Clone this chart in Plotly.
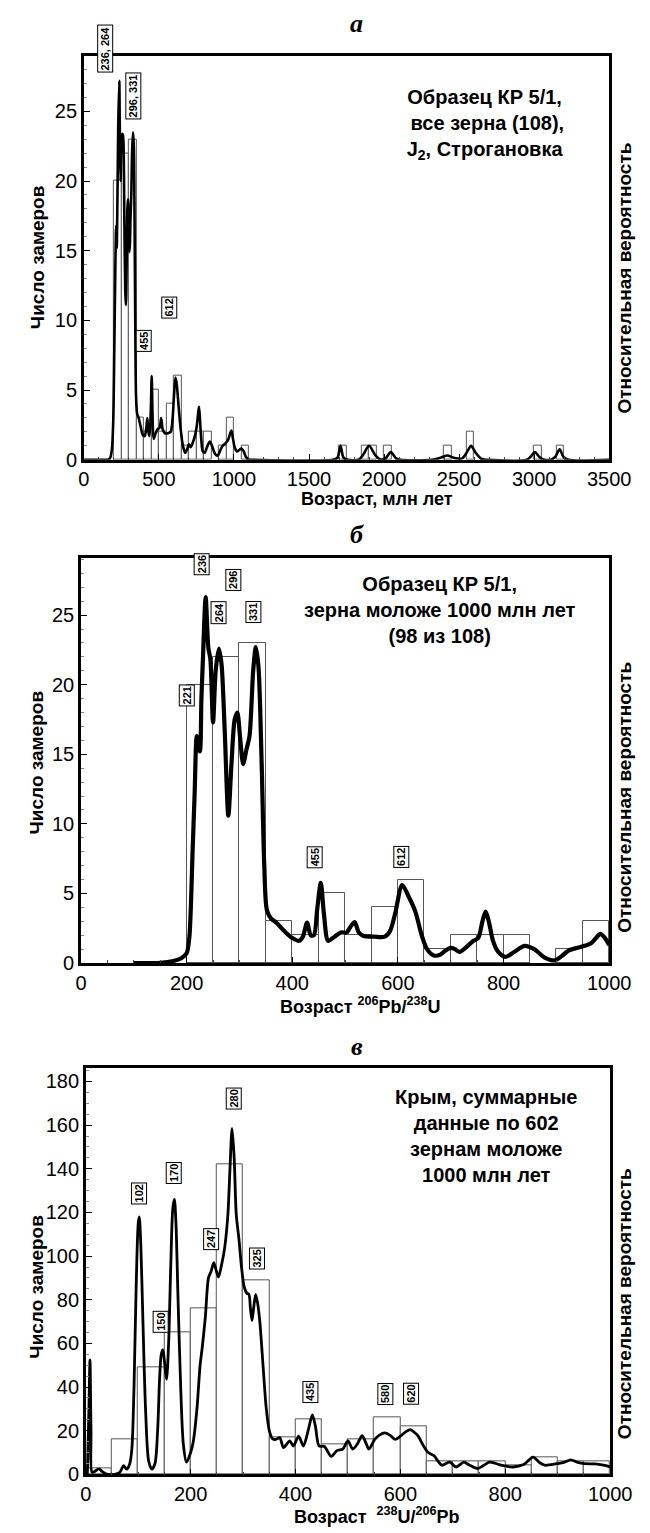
import plotly.graph_objects as go

W, H = 650, 1533

# ---------------- data ----------------
# Panel a: histogram (bin centers, width 50) and probability curve
a_bins = [225, 275, 325, 375, 425, 475, 525, 575, 625, 675, 725, 775, 825, 925, 975, 1075,
          1725, 1875, 1925, 2025, 2425, 2575, 3025, 3175]
a_counts = [20, 22, 23, 3, 2, 5, 2, 4, 6, 1, 2, 2, 2, 1, 3, 1,
            1, 1, 1, 1, 1, 2, 1, 1]
a_kde_x = [0, 100, 170, 185, 195, 203, 210, 215, 219, 224, 229, 236, 241, 245, 249, 255, 260, 264,
           270, 276, 280, 285, 290, 294, 298, 303, 307, 311, 316, 322, 328, 333, 338, 343, 348, 355,
           365, 378, 392, 405, 415, 423, 430, 437, 446, 452, 458, 465, 478, 492, 505, 515, 525, 540,
           560, 578, 590, 600, 610, 618, 630, 645, 660, 675, 690, 700, 712, 725, 742, 752, 762, 767,
           773, 782, 792, 805, 820, 840, 860, 875, 892, 910, 925, 945, 960, 975, 983, 992, 1005, 1020,
           1035, 1050, 1065, 1080, 1100, 1130, 1660, 1690, 1710, 1730, 1760, 1830, 1860, 1900, 1940,
           1975, 2010, 2045, 2080, 2110, 2320, 2370, 2420, 2470, 2520, 2550, 2580, 2610, 2650, 2690,
           2950, 2975, 3005, 3035, 3070, 3110, 3140, 3170, 3195, 3230, 3500]
a_kde_y = [0, 0, 0.05, 0.6, 2.5, 8, 14, 16.8, 15.2, 19, 24, 27.2, 22, 20, 22.5, 23.4, 23.3, 22.8,
           17, 12, 11.1, 14, 18, 18.7, 17, 14.9, 15.5, 17.5, 19, 22.3, 23.5, 22.5, 17, 9, 4.5, 3.3,
           3.0, 2.4, 1.8, 1.7, 2.2, 3.0, 2.0, 1.7, 3.5, 6.0, 3.0, 1.5, 1.9, 2.2, 2.3, 3.0, 2.2, 1.9,
           1.9, 2.0, 2.8, 4.5, 5.9, 5.5, 4.0, 2.2, 1.0, 0.5, 0.8, 1.1, 0.9, 1.2, 1.8, 2.4, 3.4, 3.8,
           3.0, 1.5, 0.6, 0.5, 0.9, 1.3, 0.8, 0.4, 0.3, 0.7, 1.0, 1.2, 1.4, 1.9, 2.1, 1.6, 0.9, 0.6,
           0.7, 0.8, 0.6, 0.2, 0.02, 0, 0, 0.15, 1.0, 0.15, 0, 0, 0.35, 1.0, 0.35,
           0.02, 0.1, 0.55, 0.1, 0, 0, 0.12, 0.3, 0.12, 0.1, 0.5, 1.0, 0.5, 0.05, 0,
           0, 0.2, 0.55, 0.2, 0, 0, 0.2, 0.75, 0.2, 0, 0]
a_peaks = ["236, 264", "296, 331", "455", "612"]
a_peak_x = [140, 330, 396, 570]
a_peak_y = [29.5, 26.1, 8.55, 10.95]

# Panel b
b_bins = [225, 275, 325, 375, 425, 475, 525, 575, 625, 675, 725, 775, 825, 925, 975]
b_counts = [20, 22, 23, 3, 2, 5, 2, 4, 6, 1, 2, 2, 2, 1, 3]
b_kde_x = [100, 150, 175, 190, 200, 205, 208, 211, 215, 219, 222, 225, 228, 231, 236, 241, 245, 250,
           255, 261, 266, 272, 279, 285, 291, 296, 301, 307, 313, 319, 326, 331, 336, 342, 347, 352,
           360, 370, 385, 400, 413, 420, 428, 435, 441, 447, 454, 460, 468, 480, 492, 503, 510, 518,
           526, 535, 555, 575, 585, 595, 608, 620, 633, 645, 655, 668, 680, 690, 700, 708, 717, 728,
           743, 752, 760, 766, 772, 780, 790, 803, 820, 840, 858, 878, 897, 910, 923, 940, 953, 965,
           975, 983, 992, 1000]
b_kde_y = [0, 0.02, 0.15, 0.35, 0.7, 1.8, 4, 7.7, 12, 16.3, 15.5, 15.2, 19, 22, 26.3, 22.7, 21.8, 17.3,
           21, 22.6, 21.5, 16.8, 10.6, 14.4, 17.5, 18, 16.3, 14.3, 15.3, 16.3, 21, 22.7, 21.3, 14.4, 7, 3.8,
           3.2, 2.9, 2.3, 1.8, 1.6, 1.9, 2.9, 2.0, 2.0, 3.8, 5.76, 3.5, 1.6, 1.9, 2.2, 2.2, 2.6, 2.95,
           2.2, 1.95, 1.9, 1.9, 2.3, 3.6, 5.6, 4.8, 3.7, 2.0, 1.0, 0.55, 0.6, 0.9, 1.1, 1.0, 0.8, 1.1,
           1.6, 1.8, 3.0, 3.7, 3.0, 1.6, 0.8, 0.45, 0.8, 1.24, 1.0, 0.4, 0.2, 0.5, 0.9, 1.1, 1.24, 1.4,
           1.8, 2.1, 1.8, 1.3]
b_peaks = ["236", "264", "296", "331", "221", "455", "612"]
b_peak_x = [229, 261, 289, 327, 200, 443, 607]
b_peak_y = [28.65, 25.2, 27.5, 25.2, 19.2, 7.6, 7.6]

# Panel c
c_bins = [25, 75, 125, 175, 225, 275, 325, 375, 425, 475, 525, 575, 625, 675, 725, 775, 825, 875, 925, 975]
c_counts = [3, 16, 49, 65, 76, 142, 89, 17, 25, 14, 16, 26, 22, 6, 6, 6, 4, 8, 6, 6]
c_kde_x = [3, 6, 8, 10, 12, 18, 25, 32, 40, 55, 65, 72, 78, 84, 88, 92, 96, 100, 102, 105, 109, 114,
           120, 126, 132, 137, 141, 144, 147, 150, 154, 158, 162, 166, 169, 172, 176, 181, 186, 192,
           200, 205, 212, 218, 222, 228, 234, 239, 244, 248, 253, 259, 265, 271, 275, 279, 283, 287,
           292, 297, 302, 307, 311, 314, 317, 320, 324, 328, 332, 338, 344, 350, 356, 362, 370, 377,
           389, 396, 406, 415, 424, 432, 438, 445, 455, 468, 479, 490, 500, 509, 518, 527, 534, 540,
           551, 560, 570, 580, 590, 600, 610, 619, 627, 634, 643, 653, 664, 672, 679, 694, 706, 721,
           732, 747, 758, 770, 782, 792, 815, 835, 853, 865, 875, 898, 912, 925, 938, 951, 970, 981,
           992, 1000]
c_kde_y = [0, 30, 52.5, 20, 1, 1.5, 2.5, 1.2, 0.1, 0, 1, 4, 2.4, 5, 12, 40, 85, 115, 118, 105, 70, 30,
           6, 2.4, 5, 20, 45, 55, 57, 52, 43.5, 60, 95, 122, 126, 115, 80, 40, 14, 5.6,
           10, 15, 30, 50, 58, 72, 90, 93, 97, 94, 90.4, 96, 104, 119, 140, 158.5, 145, 119,
           108, 95, 86, 83, 82.5, 76, 70.5, 76, 82.5, 78, 69.7, 50, 30.7, 20, 16.4, 16, 16.8, 12.3,
           15.3, 13, 17.5, 13, 20, 27.2, 22, 13, 12.8, 8.3, 10.9, 11.6, 15.3, 11.6, 14, 17.8, 14.5, 11.6,
           16, 18, 19, 18, 16, 17.5, 19.5, 20.5, 19.2, 17.5, 13.5, 10, 8.6, 6, 4.2, 5.6, 3.4, 5.6,
           4.2, 2.7, 4, 5.6, 5, 4.2, 3.4, 4.5, 7.9, 5.5, 4.2, 4.9, 5.5, 6.7, 5.5, 4.9, 4.8, 4.5,
           4.0, 3.4]
c_peaks = ["280", "170", "102", "247", "325", "150", "435", "580", "620"]
c_peak_x = [282, 168, 102, 240, 327, 142, 429, 571, 620]
c_peak_y = [172, 138, 128.8, 107.6, 99, 70, 37.6, 36.9, 36.9]

# ---------------- layout geometry (pixels) ----------------
panels = [
    dict(x0=73, x1=622, y0=48, y1=455, xr=[0, 3500], yr=[0, 29.0], xd=500, xm=100, yd=5, ym=1,
         rt=272, yt=251),
    dict(x0=70, x1=622, y0=554, y1=962, xr=[0, 1000], yr=[0, 29.1], xd=200, xm=50, yd=5, ym=1,
         rt=795, yt=760),
    dict(x0=75, x1=623, y0=1068, y1=1477, xr=[0, 1000], yr=[0, 186], xd=200, xm=50, yd=20, ym=5,
         rt=1305, yt=1288),
]

def px(x):
    return x / W

def py(y):
    return 1 - y / H

fig = go.Figure()
FONT = "Liberation Sans, Arial, sans-serif"

datasets = [
    (a_bins, a_counts, a_kde_x, a_kde_y, a_peaks, a_peak_x, a_peak_y, 2.6),
    (b_bins, b_counts, b_kde_x, b_kde_y, b_peaks, b_peak_x, b_peak_y, 4.2),
    (c_bins, c_counts, c_kde_x, c_kde_y, c_peaks, c_peak_x, c_peak_y, 2.8),
]

annotations = []

def ann(text, x, y, xref="paper", yref="paper", size=18, angle=0, family=FONT, **kw):
    d = dict(text=text, x=x, y=y, xref=xref, yref=yref, showarrow=False, textangle=angle,
             xanchor="center", yanchor="middle",
             font=dict(family=family, size=size, color="black"))
    d.update(kw)
    annotations.append(d)

for i, (p, d) in enumerate(zip(panels, datasets)):
    sfx = "" if i == 0 else str(i + 1)
    bins, counts, kx, ky, labs, lx, ly, lw = d
    fig.add_trace(go.Bar(x=bins, y=counts, width=50, xaxis="x" + sfx, yaxis="y" + sfx,
                         marker=dict(color="white", line=dict(color="#555555", width=1)),
                         showlegend=False, hoverinfo="skip"))
    fig.add_trace(go.Scatter(x=kx, y=ky, xaxis="x" + sfx, yaxis="y" + sfx, mode="lines",
                             line=dict(color="black", width=lw, shape="spline", smoothing=0.8),
                             showlegend=False, hoverinfo="skip"))
    axcommon = dict(showline=True, mirror=True, linecolor="black", linewidth=2.5,
                    ticks="inside", tickwidth=1.2, ticklen=6, tickcolor="black",
                    showgrid=False, zeroline=False,
                    tickfont=dict(family=FONT, size=20, color="black"))
    fig.update_layout(**{
        "xaxis" + sfx: dict(axcommon, domain=[px(p["x0"]), px(p["x1"])], range=p["xr"],
                            anchor="y" + sfx, dtick=p["xd"], tick0=0,
                            minor=dict(ticks="inside", ticklen=3, dtick=p["xm"], tickcolor="#444")),
        "yaxis" + sfx: dict(axcommon, domain=[py(p["y1"]), py(p["y0"])], range=p["yr"],
                            anchor="x" + sfx, dtick=p["yd"], tick0=0,
                            minor=dict(ticks="inside", ticklen=3, dtick=p["ym"], tickcolor="#888")),
    })
    ymax = p["yr"][1]
    for t, x, y in zip(labs, lx, ly):
        ann("<b>%s</b>" % t, x, y / ymax, xref="x" + sfx, yref="y%s domain" % sfx, size=11, angle=-90,
            bordercolor="black", borderwidth=1, borderpad=1, bgcolor="white")
    ann("<b>Число замеров</b>", px(24), py(p["yt"]), size=19, angle=-90)
    ann("<b>Относительная вероятность</b>", px(638), py(p["rt"]), size=19, angle=-90)

# panel letters
for letter, yy in zip(["а", "б", "в"], [16, 530, 1046]):
    ann("<b><i>%s</i></b>" % letter, px(358), py(yy), size=26,
        family="Liberation Serif, Times New Roman, serif")

# x-axis titles
ann("<b>Возраст, млн лет</b>", px(379), py(495), size=18)
ann("<b>Возраст <sup>206</sup>Pb/<sup>238</sup>U</b>", px(362), py(1005), size=18)
ann("<b>Возраст  <sup>238</sup>U/<sup>206</sup>Pb</b>", px(379), py(1532), size=18, yanchor="bottom")

# panel texts
ann("<b>Образец КР 5/1,<br> все зерна (108),<br>J<sub>2</sub>, Строгановка</b>",
    0.763, 0.83, xref="x domain", yref="y domain", size=20)
ann("<b>Образец КР 5/1,<br>зерна моложе 1000 млн лет<br>(98 из 108)</b>",
    0.68, 0.872, xref="x2 domain", yref="y2 domain", size=20)
ann("<b>Крым, суммарные<br>данные по 602<br>зернам моложе<br>1000 млн лет</b>",
    0.763, 0.834, xref="x3 domain", yref="y3 domain", size=20)

fig.update_layout(width=W, height=H, margin=dict(l=0, r=0, t=0, b=0),
                  paper_bgcolor="white", plot_bgcolor="white", bargap=0,
                  annotations=annotations)

fig.write_html("out.html")
